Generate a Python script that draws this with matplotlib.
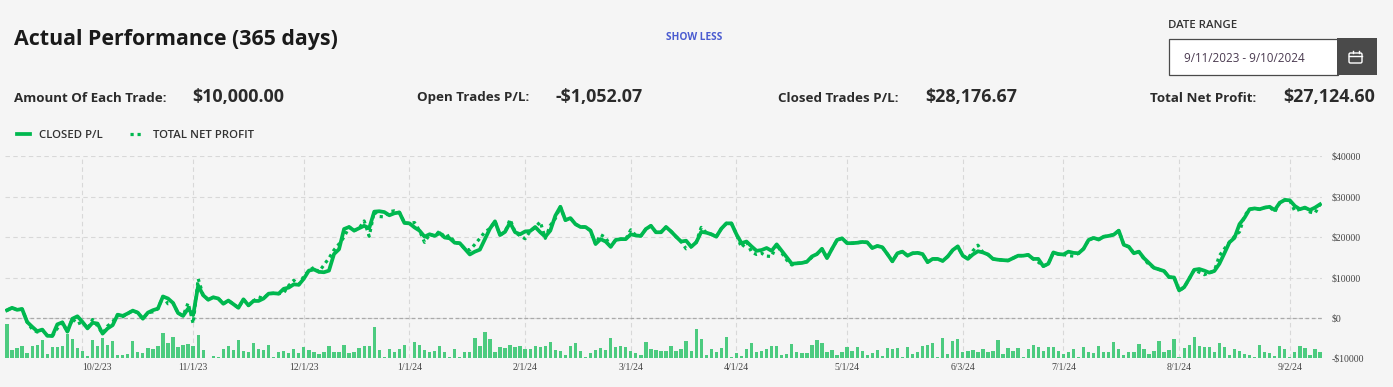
import matplotlib
matplotlib.use('Agg')
import matplotlib.pyplot as plt
from matplotlib.patches import Rectangle, FancyBboxPatch
import pandas as pd

# weekdays on the chart
dates = pd.bdate_range('2023-09-11', '2024-09-10')
tick_labels = ['10/2/23', '11/1/23', '12/1/23', '1/1/24', '2/1/24', '3/1/24',
               '4/1/24', '5/1/24', '6/3/24', '7/1/24', '8/1/24', '9/2/24']
y_ticks = [-10000, 0, 10000, 20000, 30000, 40000]
y_labels = ['-$10000', '$0', '$10000', '$20000', '$30000', '$40000']

closed_pl = [
    1900, 2500, 2000, 2200, -1000, -2200, -3300, -2900, -4400, -4500,
    -1600, -1100, -3400, -200, 400, -1000, -2600, -1200, -1400, -3900,
    -2600, -1800, 800, 500, 1100, 1800, 1300, -200, 1300, 1900,
    2300, 5300, 4800, 3700, 1200, 500, 2300, 700, 8000, 5600,
    4500, 5100, 4800, 3500, 4300, 3400, 2500, 4600, 3100, 4200,
    4200, 4800, 6000, 6100, 6000, 7200, 7500, 8300, 8200, 9700,
    11700, 12000, 11400, 11300, 11700, 15800, 17000, 22000, 22500, 21600,
    22200, 22800, 22200, 26300, 26400, 26200, 25400, 25900, 26100, 23500,
    23400, 22400, 21600, 20100, 20700, 20300, 21000, 19900, 19700, 18600,
    18500, 17100, 15700, 16400, 16900, 19500, 22100, 23900, 20500, 21300,
    23600, 21200, 20700, 21400, 21500, 22500, 21200, 20100, 21600, 25300,
    27500, 24200, 24700, 23200, 22500, 22500, 21600, 18300, 19500, 18900,
    17600, 19300, 19500, 19500, 20700, 20400, 20300, 22000, 22800, 21200,
    21200, 22500, 21400, 20100, 18900, 19100, 17600, 18700, 21300, 21100,
    20700, 20100, 22100, 23400, 23400, 20700, 18500, 18900, 17700, 16600,
    16800, 17300, 16600, 18200, 16600, 15000, 13400, 13500, 13600, 13900,
    15200, 15800, 17100, 14800, 17100, 19300, 19700, 18500, 18500, 18600,
    18800, 18700, 17300, 17800, 17500, 15800, 14000, 16000, 16400, 15400,
    16000, 16100, 15800, 13800, 14600, 14600, 14100, 15200, 16800, 17700,
    15400, 14600, 15700, 16500, 16200, 15700, 14600, 14400, 14300, 14200,
    14800, 15400, 15400, 15600, 14600, 14600, 12800, 13400, 16200, 15800,
    15700, 16400, 16100, 16000, 17100, 19300, 19800, 19400, 20100, 20300,
    20600, 21600, 18100, 17600, 16000, 16400, 14800, 13600, 12400, 12000,
    11600, 10100, 10000, 6800, 7600, 9700, 11900, 12100, 11700, 11200,
    11600, 13400, 16000, 18700, 19800, 23200, 24800, 26900, 27100, 26900,
    27300, 27500, 26700, 28500, 29200, 29100, 27700, 26900, 27300, 26700,
    27300, 28100,
]

total_net = [
    1900, 2500, 2000, 2200, -1000, -2800, -3500, -2900, -4400, -4500,
    -2600, -1100, -3400, -200, -1500, -1000, -2600, -400, -2000, -3900,
    -2000, -1000, 800, 300, 1100, 1800, 1300, -200, 1300, 1500,
    2300, 5300, 3500, 3700, 1200, 500, 3700, -1400, 9700, 5600,
    4500, 5100, 4800, 3500, 4300, 3400, 2500, 4600, 3100, 4200,
    5200, 4800, 6000, 6100, 6000, 6200, 8000, 9300, 8200, 10300,
    11700, 12500, 11400, 13100, 14800, 16800, 18300, 20000, 22500, 21600,
    22200, 24000, 20200, 26300, 25100, 25000, 26300, 26500, 26100, 23500,
    23400, 23600, 21600, 18700, 20700, 20300, 21500, 19900, 20500, 18600,
    18500, 17100, 16800, 18200, 19700, 21300, 22100, 23900, 20500, 21300,
    24400, 21200, 20300, 19600, 21500, 22400, 23800, 19700, 22900, 24600,
    27500, 24200, 24700, 23200, 22500, 22500, 21600, 18300, 20600, 19900,
    17600, 19300, 19500, 19500, 21800, 20400, 20300, 22000, 22800, 21200,
    21200, 22500, 21400, 20100, 18900, 17100, 17600, 18700, 22400, 21100,
    20700, 20100, 22100, 23400, 23400, 20700, 17400, 18900, 16300, 15700,
    16000, 15300, 15200, 18200, 16100, 14300, 13100, 13500, 13600, 13900,
    15000, 15800, 17100, 14800, 17100, 19300, 19700, 18500, 18500, 18600,
    18800, 18700, 17300, 17800, 17500, 15800, 14000, 16000, 16400, 15400,
    16000, 16100, 15800, 13800, 14600, 14600, 14100, 15200, 16800, 17700,
    15400, 14600, 16600, 18000, 16200, 15700, 14600, 14400, 14300, 14200,
    14800, 15400, 15400, 15600, 14600, 13800, 12800, 13400, 16200, 15800,
    15700, 15400, 15300, 16000, 17100, 19300, 19800, 19400, 20100, 20300,
    20600, 21600, 18100, 17600, 16000, 16400, 14600, 13200, 12400, 12000,
    11600, 10100, 10000, 6800, 7500, 9700, 11900, 11300, 10700, 11200,
    11600, 15400, 17100, 18700, 20200, 21300, 25300, 26900, 27100, 26900,
    27300, 27500, 26200, 28500, 29200, 29100, 26400, 26900, 27300, 26200,
    25900, 28100,
]

# bars have no scale of their own in the picture
daily_bars = [
    103, 25, 30, 36, 15, 36, 40, 56, 13, 34,
    34, 38, 72, 58, 31, 22, 7, 54, 38, 61,
    40, 52, 9, 9, 13, 52, 20, 16, 31, 27,
    36, 76, 47, 65, 34, 40, 43, 36, 70, 25,
    2, 8, 4, 27, 36, 25, 54, 22, 18, 47,
    27, 25, 40, 3, 20, 22, 16, 27, 16, 34,
    25, 18, 13, 18, 36, 20, 20, 40, 16, 18,
    30, 38, 36, 94, 25, 3, 27, 20, 27, 40,
    2, 50, 40, 25, 20, 22, 36, 18, 5, 27,
    3, 20, 20, 61, 36, 79, 58, 20, 34, 31,
    40, 34, 38, 29, 27, 36, 34, 36, 50, 25,
    22, 9, 36, 47, 22, 3, 15, 25, 31, 25,
    61, 34, 36, 34, 22, 15, 9, 50, 27, 25,
    22, 22, 36, 22, 27, 52, 22, 88, 58, 9,
    27, 20, 31, 65, 3, 16, 7, 27, 47, 20,
    22, 27, 36, 38, 9, 13, 43, 20, 16, 16,
    40, 56, 47, 20, 25, 9, 18, 34, 22, 34,
    22, 9, 16, 25, 7, 31, 27, 31, 4, 34,
    13, 20, 38, 40, 47, 3, 61, 13, 52, 58,
    20, 22, 25, 18, 27, 20, 22, 54, 13, 31,
    22, 31, 3, 27, 40, 34, 22, 35, 34, 22,
    13, 18, 27, 3, 34, 20, 16, 38, 20, 20,
    50, 27, 9, 20, 20, 43, 27, 13, 22, 52,
    20, 25, 58, 4, 31, 40, 65, 36, 34, 34,
    18, 47, 34, 9, 27, 22, 13, 9, 4, 40,
    18, 16, 7, 36, 27, 3, 20, 36, 31, 9,
    27, 20,
]

tick_dates = ['2023-10-02', '2023-11-01', '2023-12-01', '2024-01-01', '2024-02-01', '2024-03-01',
              '2024-04-01', '2024-05-01', '2024-06-03', '2024-07-01', '2024-08-01', '2024-09-02']

W, H = 1393, 387
BG = '#f5f5f5'
GREEN = '#00b84f'
UI_FONT = 'Open Sans'

fig = plt.figure(figsize=(W / 100, H / 100), dpi=100, facecolor=BG)

# chart area
left, right, top, bottom = 5, 1322, 156.3, 358.3
ax = fig.add_axes([left / W, 1 - bottom / H, (right - left) / W, (bottom - top) / H], facecolor='none')
x = range(len(dates))
tick_pos = [dates.get_loc(pd.Timestamp(d)) for d in tick_dates]

ax.set_xlim(-0.4, 261.4)
ax.set_ylim(-10000, 40000)
for s in ax.spines.values():
    s.set_visible(False)

bars = ax.twinx()
bars.set_ylim(0, 606)
bars.axis('off')
bars.bar(x, daily_bars, width=0.66, color='#4ccb7f', zorder=2)

lines = ax.twinx()
lines.set_ylim(ax.get_ylim())
lines.axis('off')
net_line, = lines.plot(x, total_net, color=GREEN, linewidth=2.3, linestyle=(0, (1, 1.2)), label='TOTAL NET PROFIT', zorder=3)
closed_line, = lines.plot(x, closed_pl, color=GREEN, linewidth=2.7, solid_joinstyle='round', label='CLOSED P/L', zorder=4)

# twinx moves the ticks back to the left, so set them up afterwards
ax.yaxis.tick_right()
ax.set_xticks(tick_pos, tick_labels, family='Liberation Serif', fontsize=7, color='#444444')
ax.get_xticklabels()[0].set_ha('left')  # first label sits right of its gridline
ax.set_yticks(y_ticks, y_labels, family='Liberation Serif', fontsize=7, color='#444444')
ax.tick_params(length=0)
ax.tick_params(axis='x', pad=3.5)
ax.tick_params(axis='y', pad=7.2)
ax.grid(True, linestyle=(0, (4, 3)), linewidth=0.8, color='#d8d8d8')
ax.set_axisbelow(True)
ax.axhline(0, color='#aaaaaa', linewidth=0.9, linestyle=(0, (3, 2)), zorder=1)

# header drawn in pixel coordinates
ui = fig.add_axes([0, 0, 1, 1], facecolor='none')
ui.set_xlim(0, W)
ui.set_ylim(H, 0)
ui.axis('off')

ui.text(14, 40, 'Actual Performance (365 days)', family=UI_FONT, weight='bold', fontsize=15.4, color='#1a1a1a', va='center')
ui.text(694.5, 38, 'SHOW LESS', family=UI_FONT, weight='bold', fontsize=7.3, color='#4a5bd0', va='center', ha='center')
ui.text(1168, 25, 'DATE RANGE', family=UI_FONT, weight='semibold', fontsize=8.2, color='#333333', va='center')

ui.add_patch(Rectangle((1168.5, 38.5), 169, 36, facecolor='white', edgecolor='#4a4a4a', linewidth=0.9))
ui.add_patch(Rectangle((1337, 38), 40, 37, facecolor='#4a4a4a', edgecolor='none'))
ui.text(1184, 58, '9/11/2023 - 9/10/2024', family=UI_FONT, fontsize=8.4, color='#4a3a50', va='center')
ui.add_patch(FancyBboxPatch((1349, 53), 13, 10, boxstyle='round,pad=0,rounding_size=1.5', facecolor='none', edgecolor='white', linewidth=1))
ui.plot([1349, 1362], [56, 56], color='white', linewidth=1)
ui.plot([1352.5, 1352.5], [51, 53], color='white', linewidth=1)
ui.plot([1358.5, 1358.5], [51, 53], color='white', linewidth=1)

stat_labels = ['Amount Of Each Trade:', 'Open Trades P/L:', 'Closed Trades P/L:', 'Total Net Profit:']
stat_values = ['$10,000.00', '-$1,052.07', '$28,176.67', '$27,124.60']
label_x = [14, 417, 778, 1150]
value_x = [192, 556, 925, 1283]
for lab, val, lx, vx in zip(stat_labels, stat_values, label_x, value_x):
    ui.text(lx, 98, lab, family=UI_FONT, weight='bold', fontsize=9.6, color='#2b2b2b', va='center')
    ui.text(vx, 97, val, family=UI_FONT, weight='bold', fontsize=12.9, color='#2b2b2b', va='center')

fig.legend(handles=[closed_line, net_line], loc='center left', bbox_to_anchor=(8 / W, 1 - 135 / H), ncol=2,
           frameon=False, prop={'family': UI_FONT, 'size': 8.2, 'weight': 'semibold'}, labelcolor='#333333',
           handlelength=1.15, handletextpad=0.8, columnspacing=2.4, borderpad=0.3)

fig.savefig('out.png', dpi=100, facecolor=BG)
